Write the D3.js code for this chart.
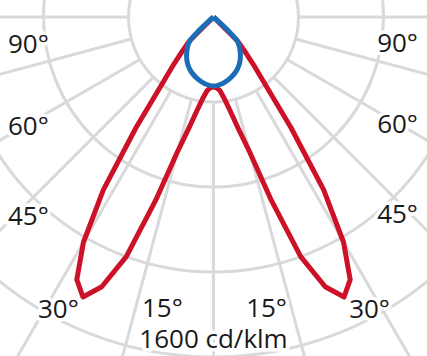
<!DOCTYPE html>
<html>
<head>
<meta charset="utf-8">
<script src="https://cdn.jsdelivr.net/npm/d3@7"></script>
<style>
  body { margin: 0; background: #fff; }
  svg { display: block; }
  .lbl { font-family: "Open Sans", "Noto Sans", sans-serif; font-size: 26px; fill: #1a1a1a; }
</style>
</head>
<body>
<div id="chart"></div>
<script>
// angles measured from nadir (deg), mirrored to both sides
const redAngles = [0, 2.5, 5, 7.5, 10, 12.5, 15, 17.5, 20, 22.5, 25, 27.5, 30, 32.5, 35, 37.5, 40, 42.5, 45, 48]
const redValues = [329, 334, 348, 386, 447, 536, 659, 904, 1200, 1374, 1454, 1393, 1224, 965, 635, 400, 292, 215, 160, 0]

const blueAngles = [0, 5, 10, 15, 20, 25, 30, 35, 40, 42.5, 45, 46.5, 48, 50]
const blueValues = [325, 320, 311, 299, 285, 268, 247, 221, 192, 176, 155, 112, 40, 0]

// grid
const rings = [400, 800, 1200, 1600]
const spokes = [-90, -75, -60, -45, -30, -15, 0, 15, 30, 45, 60, 75, 90]

// labels
const leftLabels = ["90°", "60°", "45°", "30°", "15°"]
const rightLabels = ["15°", "30°", "45°", "60°", "90°"]
const unitLabel = "1600 cd/klm"

const width = 427, height = 356
const cx = 213.5, cy = 17

const svg = d3.select("#chart").append("svg")
  .attr("width", width)
  .attr("height", height)

const r = d3.scaleLinear().domain([0, 1600]).range([0, 340])
const rad = d => d * Math.PI / 180

const g = svg.append("g").attr("transform", "translate(" + cx + "," + cy + ")")

// rings
g.selectAll("circle.ring")
  .data(rings)
  .enter().append("circle")
  .attr("class", "ring")
  .attr("r", d => r(d))
  .attr("fill", "none")
  .attr("stroke", "#d9d9d9")
  .attr("stroke-width", 3)

// spokes start at the first ring
g.selectAll("line.spoke")
  .data(spokes)
  .enter().append("line")
  .attr("class", "spoke")
  .attr("x1", d => r(rings[0]) * Math.sin(rad(d)))
  .attr("y1", d => r(rings[0]) * Math.cos(rad(d)))
  .attr("x2", d => r(2600) * Math.sin(rad(d)))
  .attr("y2", d => r(2600) * Math.cos(rad(d)))
  .attr("stroke", "#d9d9d9")
  .attr("stroke-width", 3)

// mirror a half curve to the full range
function mirror(angles, values) {
  const pts = []
  for (let i = angles.length - 1; i > 0; i--) pts.push([-angles[i], values[i]])
  for (let i = 0; i < angles.length; i++) pts.push([angles[i], values[i]])
  return pts
}

const radial = d3.lineRadial()
  .angle(d => Math.PI - rad(d[0]))
  .radius(d => r(d[1]))

g.append("path")
  .datum(mirror(redAngles, redValues))
  .attr("d", radial.curve(d3.curveLinear))
  .attr("fill", "none")
  .attr("stroke", "#cd1228")
  .attr("stroke-width", 5)
  .attr("stroke-linejoin", "round")

g.append("path")
  .datum(mirror(blueAngles, blueValues))
  .attr("d", radial.curve(d3.curveCatmullRom))
  .attr("fill", "none")
  .attr("stroke", "#1b6db5")
  .attr("stroke-width", 5)
  .attr("stroke-linejoin", "round")

// angle labels
const leftPos = [[8, 53], [8, 135], [8, 225], [38, 318], [142, 317]]
const rightPos = [[287, 317], [390, 318], [418, 223], [418, 133], [418, 52]]

function label(txt, x, y, anchor) {
  svg.append("text")
    .attr("class", "lbl")
    .attr("x", x).attr("y", y)
    .attr("text-anchor", anchor)
    .attr("stroke", "#fff")
    .attr("stroke-width", 7)
    .attr("paint-order", "stroke")
    .text(txt)
}
leftLabels.forEach((t, i) => label(t, leftPos[i][0], leftPos[i][1], "start"))
rightLabels.forEach((t, i) => label(t, rightPos[i][0], rightPos[i][1], "end"))
label(unitLabel, cx, 348, "middle")
</script>
</body>
</html>
